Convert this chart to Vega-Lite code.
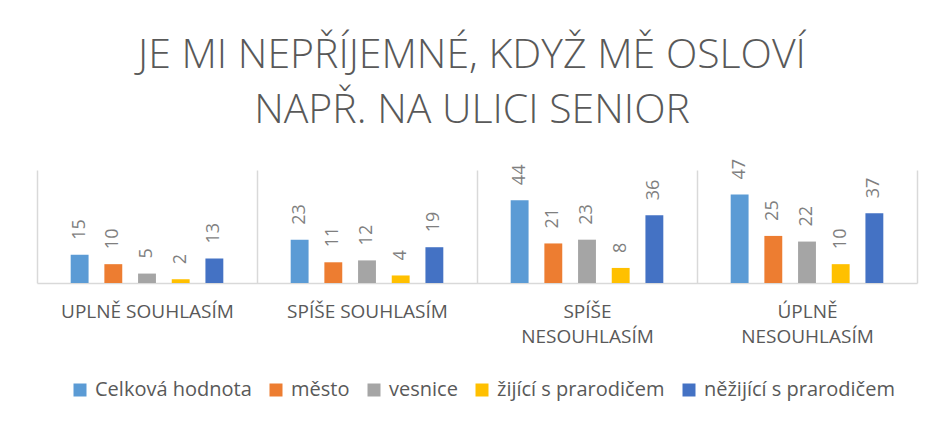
{
  "$schema": "https://vega.github.io/schema/vega-lite/v6.json",
  "width": 880,
  "height": 113,
  "autosize": {"type": "none"},
  "padding": {"left": 37, "top": 170, "right": 14, "bottom": 138},
  "background": "#ffffff",
  "config": {
    "view": {"stroke": null},
    "font": "Open Sans"
  },
  "title": {
    "text": ["JE MI NEPŘÍJEMNÉ, KDYŽ MĚ OSLOVÍ", "NAPŘ. NA ULICI SENIOR"],
    "fontSize": 41,
    "lineHeight": 55,
    "font": "Open Sans",
    "fontWeight": 300,
    "color": "#595959",
    "anchor": "middle",
    "dx": -5,
    "offset": 27
  },
  "data": {
    "values": [
      {"kategorie": "UPLNĚ SOUHLASÍM", "skupina": "Celková hodnota", "hodnota": 15},
      {"kategorie": "UPLNĚ SOUHLASÍM", "skupina": "město", "hodnota": 10},
      {"kategorie": "UPLNĚ SOUHLASÍM", "skupina": "vesnice", "hodnota": 5},
      {"kategorie": "UPLNĚ SOUHLASÍM", "skupina": "žijící s prarodičem", "hodnota": 2},
      {"kategorie": "UPLNĚ SOUHLASÍM", "skupina": "něžijící s prarodičem", "hodnota": 13},
      {"kategorie": "SPÍŠE SOUHLASÍM", "skupina": "Celková hodnota", "hodnota": 23},
      {"kategorie": "SPÍŠE SOUHLASÍM", "skupina": "město", "hodnota": 11},
      {"kategorie": "SPÍŠE SOUHLASÍM", "skupina": "vesnice", "hodnota": 12},
      {"kategorie": "SPÍŠE SOUHLASÍM", "skupina": "žijící s prarodičem", "hodnota": 4},
      {"kategorie": "SPÍŠE SOUHLASÍM", "skupina": "něžijící s prarodičem", "hodnota": 19},
      {"kategorie": "SPÍŠE NESOUHLASÍM", "skupina": "Celková hodnota", "hodnota": 44},
      {"kategorie": "SPÍŠE NESOUHLASÍM", "skupina": "město", "hodnota": 21},
      {"kategorie": "SPÍŠE NESOUHLASÍM", "skupina": "vesnice", "hodnota": 23},
      {"kategorie": "SPÍŠE NESOUHLASÍM", "skupina": "žijící s prarodičem", "hodnota": 8},
      {"kategorie": "SPÍŠE NESOUHLASÍM", "skupina": "něžijící s prarodičem", "hodnota": 36},
      {"kategorie": "ÚPLNĚ NESOUHLASÍM", "skupina": "Celková hodnota", "hodnota": 47},
      {"kategorie": "ÚPLNĚ NESOUHLASÍM", "skupina": "město", "hodnota": 25},
      {"kategorie": "ÚPLNĚ NESOUHLASÍM", "skupina": "vesnice", "hodnota": 22},
      {"kategorie": "ÚPLNĚ NESOUHLASÍM", "skupina": "žijící s prarodičem", "hodnota": 10},
      {"kategorie": "ÚPLNĚ NESOUHLASÍM", "skupina": "něžijící s prarodičem", "hodnota": 37}
    ]
  },
  "encoding": {
    "x": {
      "field": "kategorie",
      "type": "nominal",
      "sort": ["UPLNĚ SOUHLASÍM", "SPÍŠE SOUHLASÍM", "SPÍŠE NESOUHLASÍM", "ÚPLNĚ NESOUHLASÍM"],
      "scale": {"paddingInner": 0, "paddingOuter": 0},
      "axis": {
        "title": null,
        "labelAngle": 0,
        "labelFontSize": 19,
        "labelFont": "Open Sans",
        "labelColor": "#595959",
        "labelPadding": 19,
        "labelLineHeight": 25,
        "labelExpr": "indexof(datum.label, 'NESOUHLASÍM') > 0 ? split(datum.label, ' ') : datum.label",
        "ticks": false,
        "grid": true,
        "tickBand": "extent",
        "gridColor": "#d9d9d9",
        "gridWidth": 1.5,
        "domainColor": "#d9d9d9",
        "domainWidth": 1.5
      }
    },
    "xOffset": {
      "field": "skupina",
      "type": "nominal",
      "sort": ["Celková hodnota", "město", "vesnice", "žijící s prarodičem", "něžijící s prarodičem"],
      "scale": {"paddingInner": 0.469, "paddingOuter": 1.156}
    },
    "y": {
      "field": "hodnota",
      "type": "quantitative",
      "scale": {"domain": [0, 60]},
      "axis": null
    }
  },
  "layer": [
    {
      "mark": {"type": "bar"},
      "encoding": {
        "color": {
          "field": "skupina",
          "type": "nominal",
          "sort": ["Celková hodnota", "město", "vesnice", "žijící s prarodičem", "něžijící s prarodičem"],
          "scale": {
            "domain": ["Celková hodnota", "město", "vesnice", "žijící s prarodičem", "něžijící s prarodičem"],
            "range": ["#5B9BD5", "#ED7D31", "#A5A5A5", "#FFC000", "#4472C4"]
          },
          "legend": {
            "title": null,
            "orient": "none",
            "direction": "horizontal",
            "legendX": 33,
            "legendY": 210,
            "symbolType": "square",
            "symbolSize": 169,
            "symbolStrokeWidth": 0,
            "labelFont": "Open Sans",
            "labelFontSize": 20,
            "labelColor": "#595959",
            "labelOffset": 5,
            "columnPadding": 14,
            "labelLimit": 400
          }
        }
      }
    },
    {
      "mark": {
        "type": "text",
        "angle": 270,
        "align": "left",
        "baseline": "middle",
        "dx": 15,
        "fontSize": 18,
        "font": "Open Sans",
        "color": "#7f7f7f"
      },
      "encoding": {
        "text": {"field": "hodnota", "type": "quantitative"}
      }
    }
  ]
}
